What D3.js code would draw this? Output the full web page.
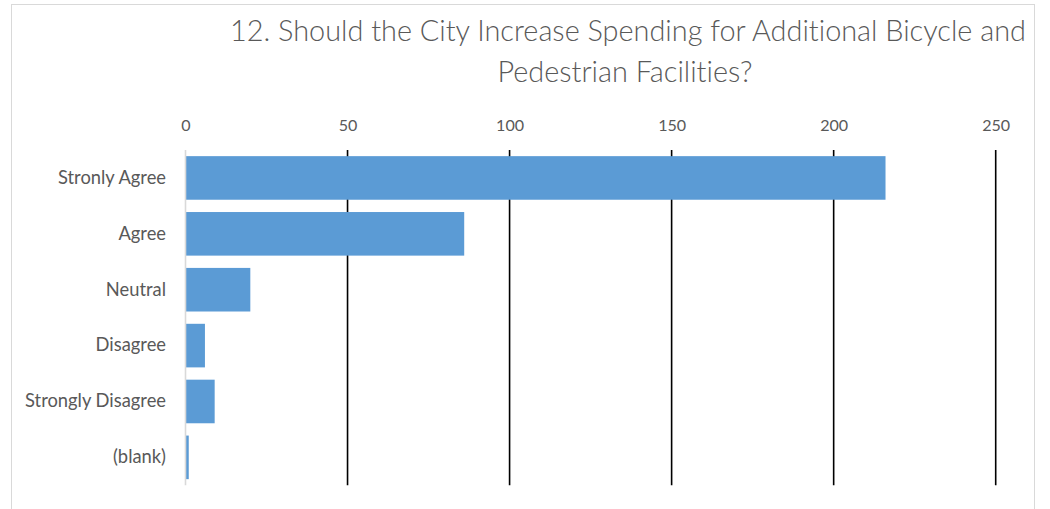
<!DOCTYPE html>
<html>
<head>
<meta charset="utf-8">
<script src="https://cdn.jsdelivr.net/npm/d3@7"></script>
<style>
  html, body { margin: 0; padding: 0; background: #fff; }
  svg { display: block; }
  text { font-family: Lato, "Open Sans", sans-serif; fill: #595959; font-variant-ligatures: none; font-feature-settings: "liga" 0, "clig" 0; }
  .title { font-weight: 300; }
</style>
</head>
<body>
<svg id="chart" width="1050" height="509"></svg>
<script>
const categories = ["Stronly Agree", "Agree", "Neutral", "Disagree", "Strongly Disagree", "(blank)"];
const values = [216, 86, 20, 6, 9, 1];
const xTicks = [0, 50, 100, 150, 200, 250];
const titleLines = ["12. Should the City Increase Spending for Additional Bicycle and", "Pedestrian Facilities?"];

const svg = d3.select("#chart");

// chart border
svg.append("rect")
  .attr("x", 11.5).attr("y", 4.5)
  .attr("width", 1023).attr("height", 540)
  .attr("fill", "#fff").attr("stroke", "#d9d9d9").attr("stroke-width", 1);

const plot = { left: 185.5, right: 995.7, top: 150, bottom: 485.3 };

const x = d3.scaleLinear().domain([0, 250]).range([plot.left, plot.right]);
const y = d3.scaleBand().domain(categories).range([plot.top, plot.bottom])
  .paddingInner(0.22).paddingOuter(0.11);

function fit(sel, target) {
  const base = 20;
  sel.style("font-size", base + "px");
  const w = sel.node().getComputedTextLength();
  const size = base * target / w;
  sel.style("font-size", size + "px");
  return size;
}

// title
const t1 = svg.append("text").attr("class", "title").attr("x", 628).attr("y", 40.7)
  .attr("text-anchor", "middle").text(titleLines[0]);
const ts = fit(t1, 796);
svg.append("text").attr("class", "title").attr("x", 625).attr("y", 81.7)
  .attr("text-anchor", "middle").style("font-size", ts + "px").text(titleLines[1]);

// gridlines
svg.append("g").selectAll("line")
  .data(xTicks.filter(d => d > 0))
  .join("line")
  .attr("x1", d => x(d)).attr("x2", d => x(d))
  .attr("y1", plot.top).attr("y2", plot.bottom)
  .attr("stroke", "#000").attr("stroke-width", 1.6);

// bars
svg.append("g").selectAll("rect")
  .data(categories.map((c, i) => ({ c, v: values[i] })))
  .join("rect")
  .attr("x", x(0))
  .attr("y", d => y(d.c))
  .attr("width", d => x(d.v) - x(0))
  .attr("height", y.bandwidth())
  .attr("fill", "#5b9bd5");

// vertical category axis line
svg.append("line")
  .attr("x1", x(0)).attr("x2", x(0))
  .attr("y1", plot.top).attr("y2", plot.bottom)
  .attr("stroke", "#d9d9d9").attr("stroke-width", 1.6);

// top value axis labels
const xAxis = svg.append("g")
  .attr("transform", `translate(0,${plot.top})`)
  .call(d3.axisTop(x).tickValues(xTicks).tickSize(0).tickPadding(19.3));
xAxis.select(".domain").remove();
xAxis.selectAll("text").attr("fill", "#595959").attr("font-family", null);
const lbl250 = xAxis.selectAll("text").filter(d => d === 250);
const tickSize = fit(lbl250, 28);
xAxis.selectAll("text").style("font-size", tickSize + "px");

// category labels
const yAxis = svg.append("g")
  .attr("transform", `translate(${plot.left},0)`)
  .call(d3.axisLeft(y).tickSize(0).tickPadding(19.5));
yAxis.select(".domain").remove();
yAxis.selectAll("text").attr("fill", "#595959").attr("font-family", null);
const lblSD = yAxis.selectAll("text").filter(d => d === "Strongly Disagree");
const catSize = fit(lblSD, 141);
yAxis.selectAll("text").style("font-size", catSize + "px");
</script>
</body>
</html>
